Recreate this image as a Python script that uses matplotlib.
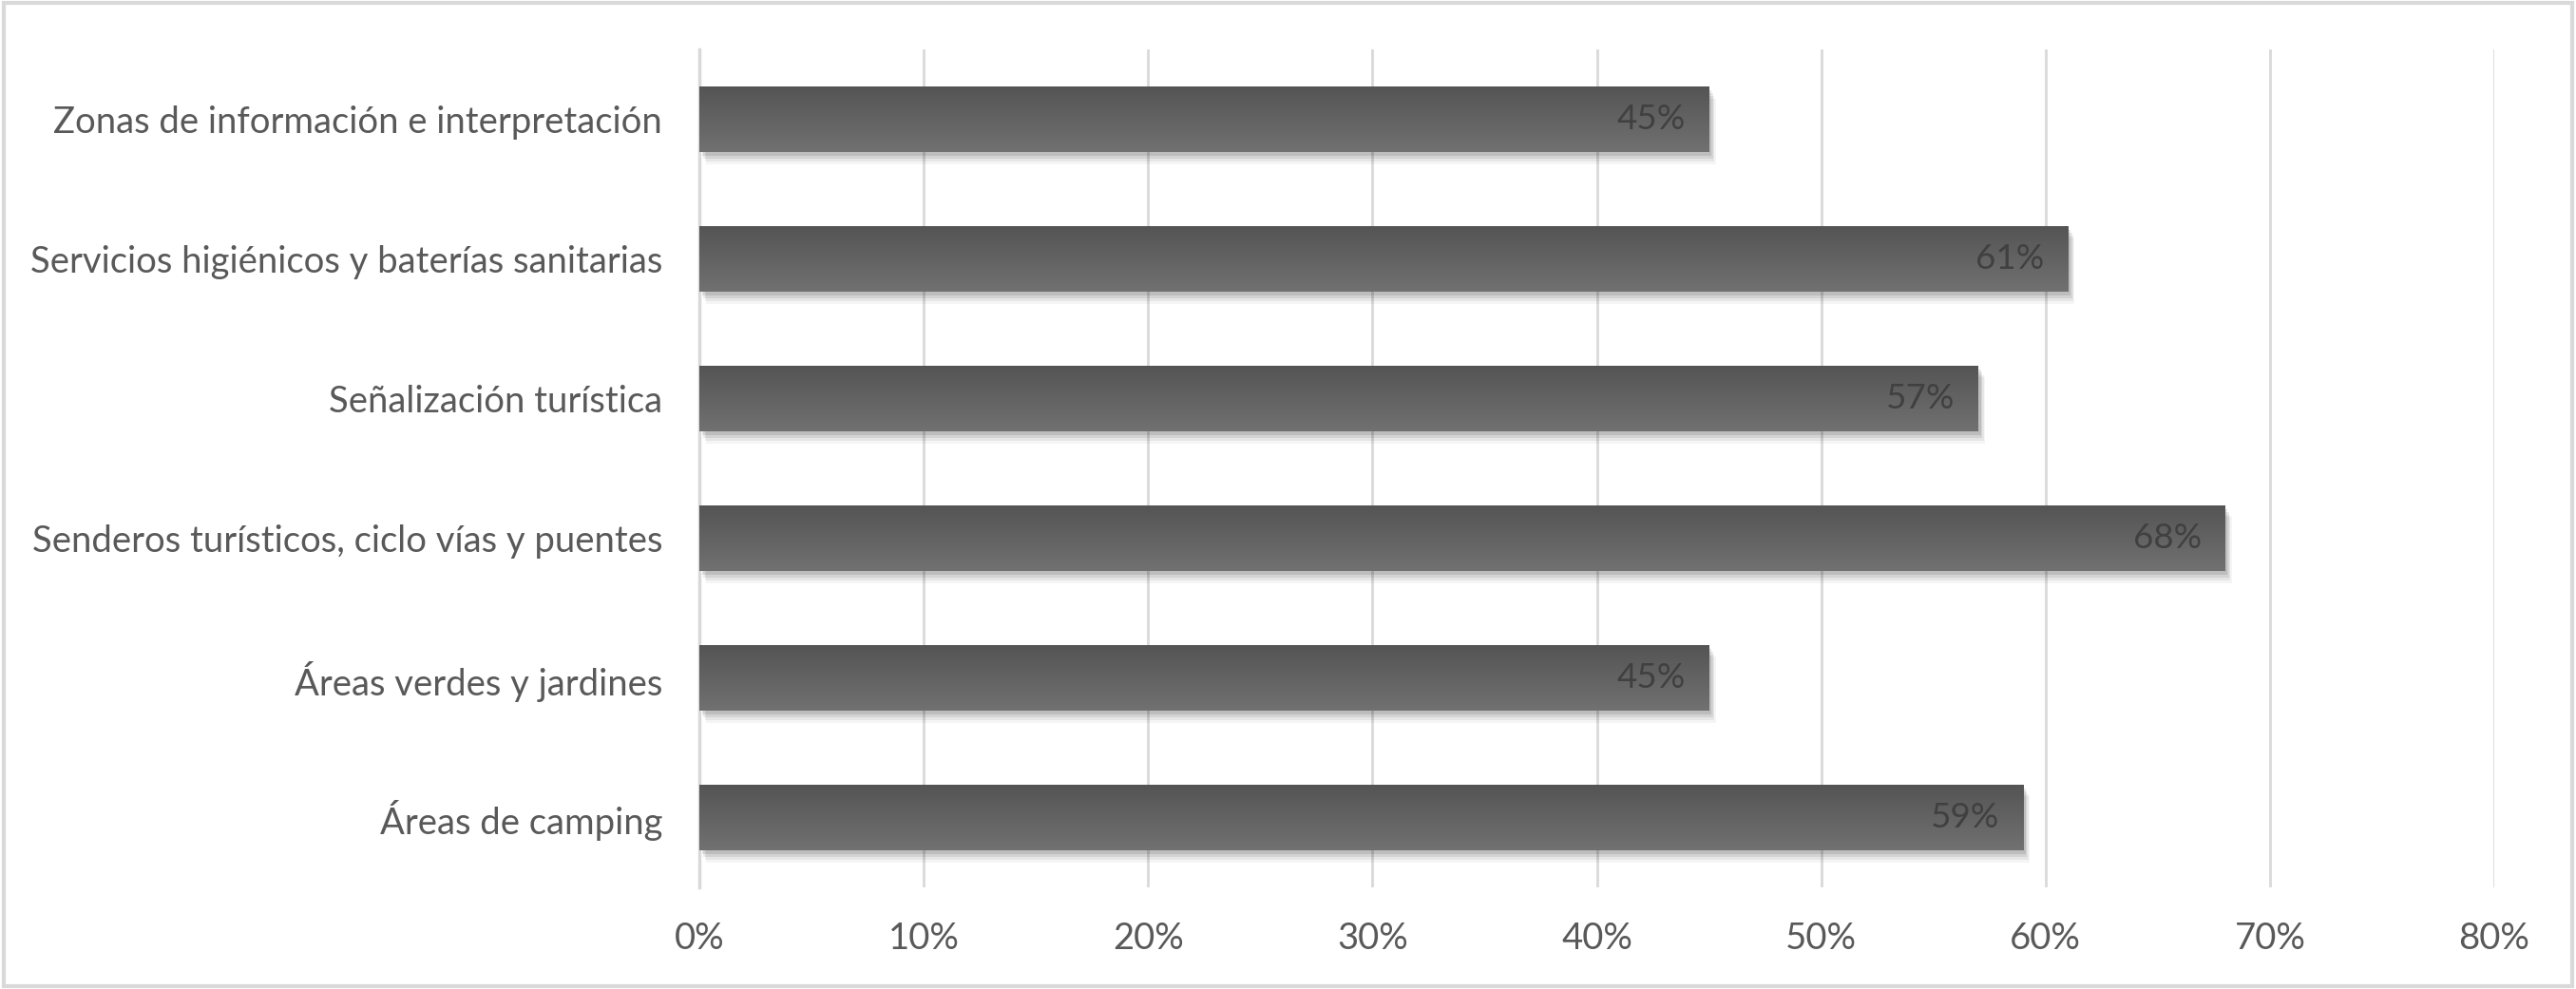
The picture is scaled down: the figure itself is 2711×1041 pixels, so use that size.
import numpy as np
import matplotlib
matplotlib.use("Agg")
import matplotlib.pyplot as plt
from matplotlib import patheffects as pe
from matplotlib.ticker import FuncFormatter
from matplotlib.colors import LinearSegmentedColormap

categories = [
    "Áreas de camping",
    "Áreas verdes y jardines",
    "Senderos turísticos, ciclo vías y puentes",
    "Señalización turística",
    "Servicios higiénicos y baterías sanitarias",
    "Zonas de información e interpretación",
]
values = [0.59, 0.45, 0.68, 0.57, 0.61, 0.45]
xticks = [0, 0.1, 0.2, 0.3, 0.4, 0.5, 0.6, 0.7, 0.8]

plt.rcParams['font.family'] = ['Lato', 'DejaVu Sans']
TXT = '#595959'
FS = 27.5

fig = plt.figure(figsize=(27.11, 10.41), dpi=100)
ax = fig.add_axes([0.2715, 0.1028, 0.6968, 0.8472])

y = np.arange(len(categories))
shadows = [pe.SimplePatchShadow(offset=(dx, dy), shadow_rgbFace='#000000', alpha=a)
           for dx, dy, a in [(5, -9, 0.04), (4, -7, 0.06), (3, -5, 0.08), (2, -3, 0.10)]]
bars = ax.barh(y, values, height=0.47, color='#616161', zorder=3,
               path_effects=shadows + [pe.Normal()])

# vertical gradient inside each bar
grad = np.linspace(0, 1, 256).reshape(-1, 1)
cmap = LinearSegmentedColormap.from_list('g', ['#717171', '#545454'])
for b in bars:
    x0, y0 = b.get_x(), b.get_y()
    w, h = b.get_width(), b.get_height()
    im = ax.imshow(grad, cmap=cmap, extent=(x0, x0 + w, y0 + h, y0), aspect='auto',
                   origin='upper', zorder=4, interpolation='bicubic')
    im.set_clip_path(b)

for yi, v in zip(y, values):
    ax.text(v - 0.0105, yi, f"{round(v*100):d}%", ha='right', va='center',
            fontsize=FS - 1, color='#404040', zorder=6)

ax.set_xlim(0, 0.8)
ax.set_ylim(-0.5, len(categories) - 0.5)
ax.set_xticks(xticks)
ax.xaxis.set_major_formatter(FuncFormatter(lambda v, p: f"{round(v*100):d}%"))
ax.set_yticks(y)
ax.set_yticklabels(categories)
ax.tick_params(axis='both', length=0, labelsize=FS, labelcolor=TXT)
ax.tick_params(axis='y', pad=28)
ax.tick_params(axis='x', pad=26)
ax.grid(axis='x', color='#d9d9d9', linewidth=2, zorder=0)
ax.set_axisbelow(True)
for s in ['top', 'right', 'bottom']:
    ax.spines[s].set_visible(False)
ax.spines['left'].set_color('#d9d9d9')
ax.spines['left'].set_linewidth(2.5)
ax.spines['left'].set_zorder(2)

# outer border
fig.patches.append(plt.Rectangle((0.0015, 0.003), 0.997, 0.994, transform=fig.transFigure,
                                 fill=False, edgecolor='#d9d9d9', linewidth=3))

fig.savefig('out.png', dpi=100, facecolor='white')
